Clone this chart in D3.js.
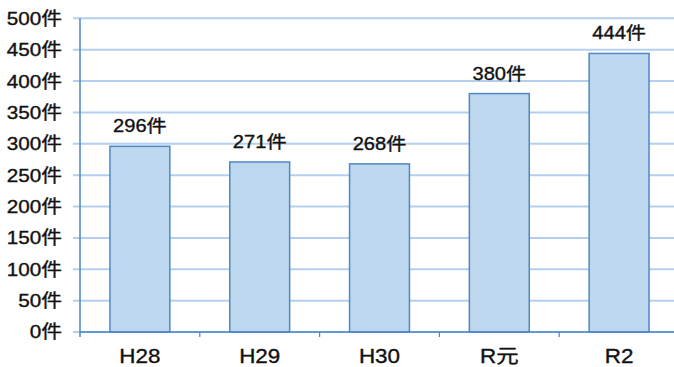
<!DOCTYPE html>
<html>
<head>
<meta charset="utf-8">
<script src="https://cdn.jsdelivr.net/npm/d3@7"></script>
<style>
  html, body { margin: 0; padding: 0; background: #fff; }
  svg { display: block; }
  text { font-family: "Liberation Sans", "Noto Sans CJK JP", sans-serif; fill: #111; stroke: #111; stroke-width: 0.35px; }
</style>
</head>
<body>
<svg id="chart" width="674" height="367"></svg>
<script>
// 年度別件数
const categories = ["H28", "H29", "H30", "R元", "R2"];
const counts = [296, 271, 268, 380, 444];
const yTicks = [0, 50, 100, 150, 200, 250, 300, 350, 400, 450, 500];
const unit = "件";

const svg = d3.select("#chart");
const plotLeft = 80, plotRight = 679, plotTop = 18.3, plotBottom = 332;
const stretch = 1.15; // wide lettering

const x = d3.scaleBand().domain(categories).range([plotLeft, plotRight]).paddingInner(0.5).paddingOuter(0.25);
const xOuter = d3.scaleBand().domain(categories).range([plotLeft, plotRight]);
const y = d3.scaleLinear().domain([0, 500]).range([plotBottom, plotTop]);

const place = (px, py) => `translate(${px},${py}) scale(${stretch},1)`;

// horizontal gridlines with outward ticks
svg.append("g")
  .selectAll("line")
  .data(yTicks)
  .join("line")
  .attr("x1", plotLeft - 7).attr("x2", 674)
  .attr("y1", d => y(d)).attr("y2", d => y(d))
  .attr("stroke", "#b4cfee")
  .attr("stroke-width", 2);

// y-axis labels
svg.append("g")
  .selectAll("text")
  .data(yTicks)
  .join("text")
  .attr("transform", d => place(62, y(d)))
  .attr("dy", "0.36em")
  .attr("text-anchor", "end")
  .attr("font-size", 18)
  .text(d => d + unit);

// bars
svg.append("g")
  .selectAll("rect")
  .data(categories)
  .join("rect")
  .attr("x", d => x(d))
  .attr("width", x.bandwidth())
  .attr("y", (d, i) => y(counts[i]))
  .attr("height", (d, i) => y(0) - y(counts[i]))
  .attr("fill", "#bdd7ee")
  .attr("stroke", "#4f88c6")
  .attr("stroke-width", 1.5);

// value labels
svg.append("g")
  .selectAll("text")
  .data(categories)
  .join("text")
  .attr("transform", (d, i) => place(x(d) + x.bandwidth() / 2, y(counts[i]) - 14))
  .attr("text-anchor", "middle")
  .attr("font-size", 17.5)
  .text((d, i) => counts[i] + unit);

// axis lines
svg.append("line")
  .attr("x1", plotLeft).attr("x2", plotLeft)
  .attr("y1", plotTop).attr("y2", plotBottom + 5)
  .attr("stroke", "#4a86c8").attr("stroke-width", 1.5);
svg.append("line")
  .attr("x1", plotLeft).attr("x2", 674)
  .attr("y1", plotBottom).attr("y2", plotBottom)
  .attr("stroke", "#4a86c8").attr("stroke-width", 1.5);

// category boundary ticks
svg.append("g")
  .selectAll("line")
  .data(categories.slice(1))
  .join("line")
  .attr("x1", d => xOuter(d)).attr("x2", d => xOuter(d))
  .attr("y1", plotBottom).attr("y2", plotBottom + 5)
  .attr("stroke", "#4a86c8").attr("stroke-width", 1.2);

// category labels
svg.append("g")
  .selectAll("text")
  .data(categories)
  .join("text")
  .attr("transform", d => place(x(d) + x.bandwidth() / 2, 363))
  .attr("text-anchor", "middle")
  .attr("font-size", 19.5)
  .text(d => d);
</script>
</body>
</html>
